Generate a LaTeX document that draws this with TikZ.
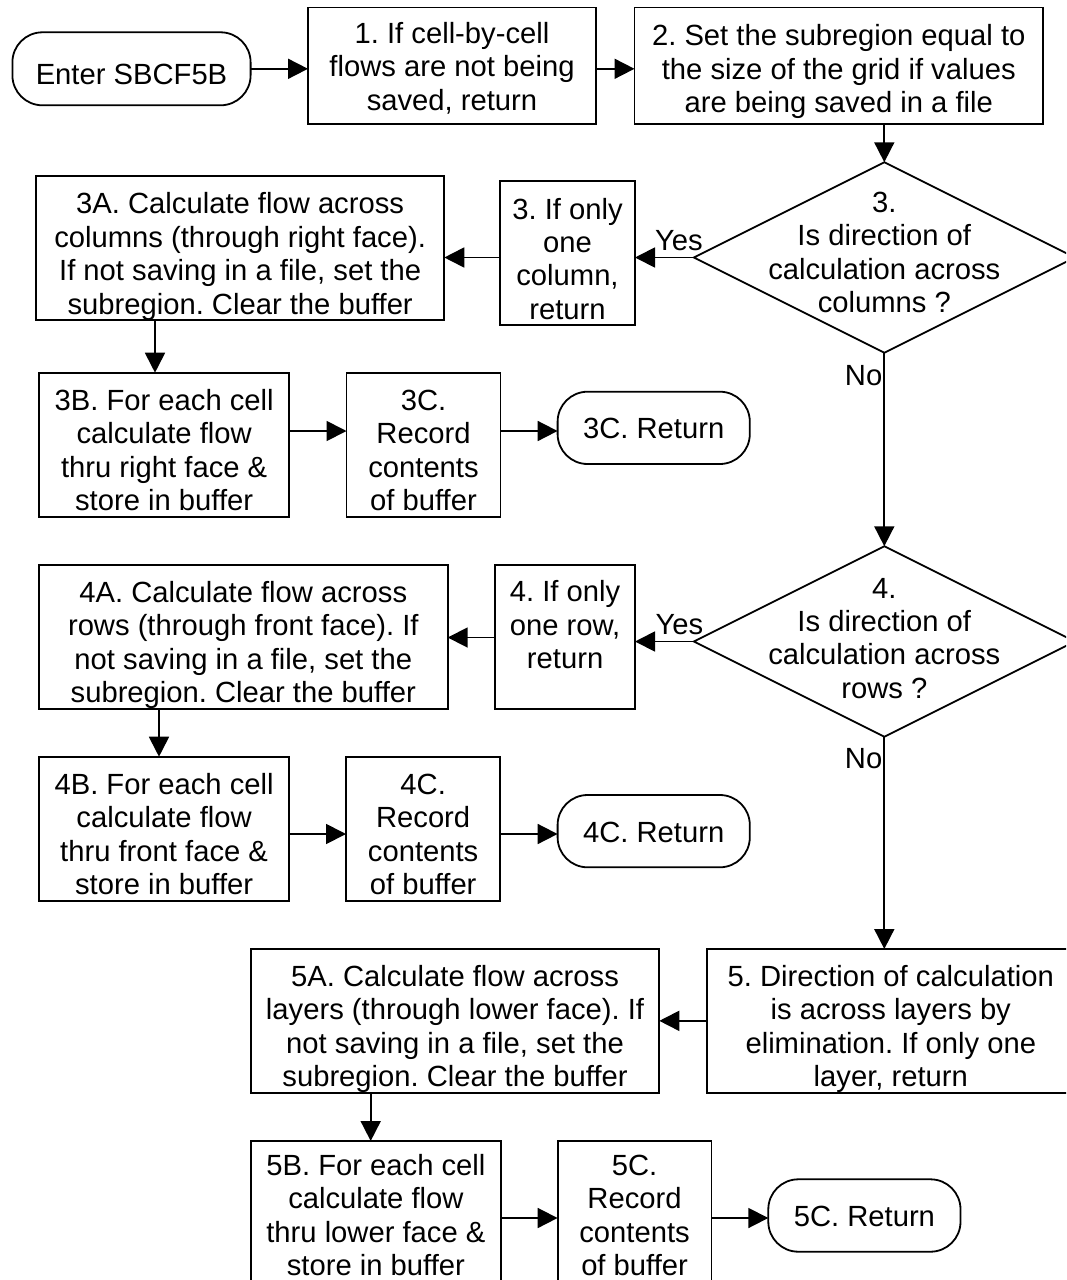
\documentclass[tikz,border=0pt]{standalone}
\usepackage{fontspec}
\setmainfont{Liberation Sans}
\usetikzlibrary{arrows.meta,shapes.geometric}
\frenchspacing
% centred block of lines, lowered/raised by #1 without changing its size
\newcommand\mlines[2][0pt]{\raisebox{#1}[\height][\depth]{\begin{tabular}{@{}c@{}}#2\end{tabular}}}
\begin{document}
\begin{tikzpicture}[x=1pt,y=-1pt,
  every node/.style={font=\fontsize{29.2}{33.4}\selectfont, inner sep=0pt, outer sep=0pt},
  box/.style={draw, rectangle, line width=1.8pt},
  term/.style={draw, rectangle, rounded corners=30pt, line width=1.8pt},
  dia/.style={draw, diamond, line width=1.8pt, minimum width=381pt, minimum height=190.5pt},
  arr/.style={line width=1.8pt, -{Triangle[length=20pt,width=20pt]}}]
\useasboundingbox (0,0) rectangle (1066,1280);
\clip (0,0) rectangle (1066,1280);

% start and first two steps
\node[term, minimum width=238.2pt, minimum height=73pt] (enter) at (131.5,68.8)
  {\mlines[-9pt]{Enter SBCF5B}};
\node[box, minimum width=288pt, minimum height=116.5pt] (b1) at (452,65.75)
  {\mlines[-4.2pt]{1. If cell-by-cell\\flows are not being\\saved, return}};
\node[box, minimum width=408.5pt, minimum height=116.5pt] (b2) at (838.75,65.75)
  {\mlines[-6.9pt]{2. Set the subregion equal to\\the size of the grid if values\\are being saved in a file}};

% decision 3: columns
\node[dia] (d3) at (884.3,257.5) {};
\node (d3t) at (d3.center) {\mlines[1.5pt]{3.\\Is direction of\\calculation across\\columns ?}};
\node[box, minimum width=135pt, minimum height=144pt] (q3) at (567.5,253)
  {\mlines[-9.5pt]{3. If only\\one\\column,\\return}};
\node[box, minimum width=408.3pt, minimum height=144pt] (a3) at (240.15,248.3)
  {\mlines[-9pt]{3A. Calculate flow across\\columns (through right face).\\If not saving in a file, set the\\subregion. Clear the buffer}};
\node[box, minimum width=250.3pt, minimum height=144pt] (b3) at (164.15,444.7)
  {\mlines[-9pt]{3B. For each cell\\calculate flow\\thru right face \&\\store in buffer}};
\node[box, minimum width=154pt, minimum height=144pt] (c3) at (423.5,444.7)
  {\mlines[-9pt]{3C.\\Record\\contents\\of buffer}};
\node[term, minimum width=192.2pt, minimum height=72.3pt] (r3) at (653.7,427.85)
  {\mlines[-4.3pt]{3C. Return}};

% decision 4: rows
\node[dia] (d4) at (884.3,641.5) {};
\node (d4t) at (d4.center) {\mlines{4.\\Is direction of\\calculation across\\rows ?}};
\node[box, minimum width=139.8pt, minimum height=144pt] (q4) at (565.1,637)
  {\mlines[8.5pt]{4. If only\\one row,\\return}};
\node[box, minimum width=408.8pt, minimum height=144pt] (a4) at (243.3,637)
  {\mlines[-9pt]{4A. Calculate flow across\\rows (through front face). If\\not saving in a file, set the\\subregion. Clear the buffer}};
\node[box, minimum width=250.4pt, minimum height=144pt] (b4) at (164.1,828.7)
  {\mlines[-9pt]{4B. For each cell\\calculate flow\\thru front face \&\\store in buffer}};
\node[box, minimum width=154.3pt, minimum height=144pt] (c4) at (423.15,828.7)
  {\mlines[-9pt]{4C.\\Record\\contents\\of buffer}};
\node[term, minimum width=192.2pt, minimum height=72.3pt] (r4) at (653.7,831.15)
  {\mlines[-4.3pt]{4C. Return}};

% step 5: layers
\node[box, minimum width=368.4pt, minimum height=143.7pt] (q5) at (890.8,1020.85)
  {\mlines[-9pt]{5. Direction of calculation\\is across layers by\\elimination. If only one\\layer, return}};
\node[box, minimum width=408.5pt, minimum height=144pt] (a5) at (455.05,1021)
  {\mlines[-9pt]{5A. Calculate flow across\\layers (through lower face). If\\not saving in a file, set the\\subregion. Clear the buffer}};
\node[box, minimum width=250.2pt, minimum height=144pt] (b5) at (375.9,1213)
  {\mlines[-6pt]{5B. For each cell\\calculate flow\\thru lower face \&\\store in buffer}};
\node[box, minimum width=153.9pt, minimum height=144pt] (c5) at (634.55,1213)
  {\mlines[-6pt]{5C.\\Record\\contents\\of buffer}};
\node[term, minimum width=192.2pt, minimum height=72.4pt] (r5) at (864.4,1215.5)
  {\mlines[-4.3pt]{5C. Return}};

% branch labels
\node[anchor=base west, xshift=20pt, yshift=7.5pt] (yes3) at (q3.east |- d3.west) {Yes};
\node[anchor=base east, xshift=-2pt, yshift=-33pt] (no3) at (d3.south) {No};
\node[anchor=base west, xshift=20.5pt, yshift=7pt] (yes4) at (q4.east |- d4.west) {Yes};
\node[anchor=base east, xshift=-2pt, yshift=-32pt] (no4) at (d4.south) {No};

% connector levels
\coordinate (k3) at (155,0);
\coordinate (k4) at (159,0);
\coordinate (k5) at (370.7,0);
\coordinate (h3) at (0,431);
\coordinate (g4) at (0,637.5);
\coordinate (h4) at (0,834);
\coordinate (h5) at (0,1218);

% connectors
\draw[arr] (enter.east) -- (enter.east -| b1.west);
\draw[arr] (b1.east |- enter.east) -- (b2.west |- enter.east);
\draw[arr] (d3.north |- b2.south) -- (d3.north);
\draw[arr] (d3.west) -- (d3.west -| q3.east);
\draw[arr] (q3.west |- d3.west) -- (a3.east |- d3.west);
\draw[arr] (a3.south -| k3) -- (b3.north -| k3);
\draw[arr] (b3.east |- h3) -- (c3.west |- h3);
\draw[arr] (c3.east |- h3) -- (r3.west |- h3);
\draw[arr] (d3.south) -- (d4.north);
\draw[arr] (d4.west) -- (d4.west -| q4.east);
\draw[arr] (q4.west |- g4) -- (a4.east |- g4);
\draw[arr] (a4.south -| k4) -- (b4.north -| k4);
\draw[arr] (b4.east |- h4) -- (c4.west |- h4);
\draw[arr] (c4.east |- h4) -- (r4.west |- h4);
\draw[arr] (d4.south) -- (d4.south |- q5.north);
\draw[arr] (q5.west) -- (q5.west -| a5.east);
\draw[arr] (a5.south -| k5) -- (b5.north -| k5);
\draw[arr] (b5.east |- h5) -- (c5.west |- h5);
\draw[arr] (c5.east |- h5) -- (r5.west |- h5);
\end{tikzpicture}
\end{document}
